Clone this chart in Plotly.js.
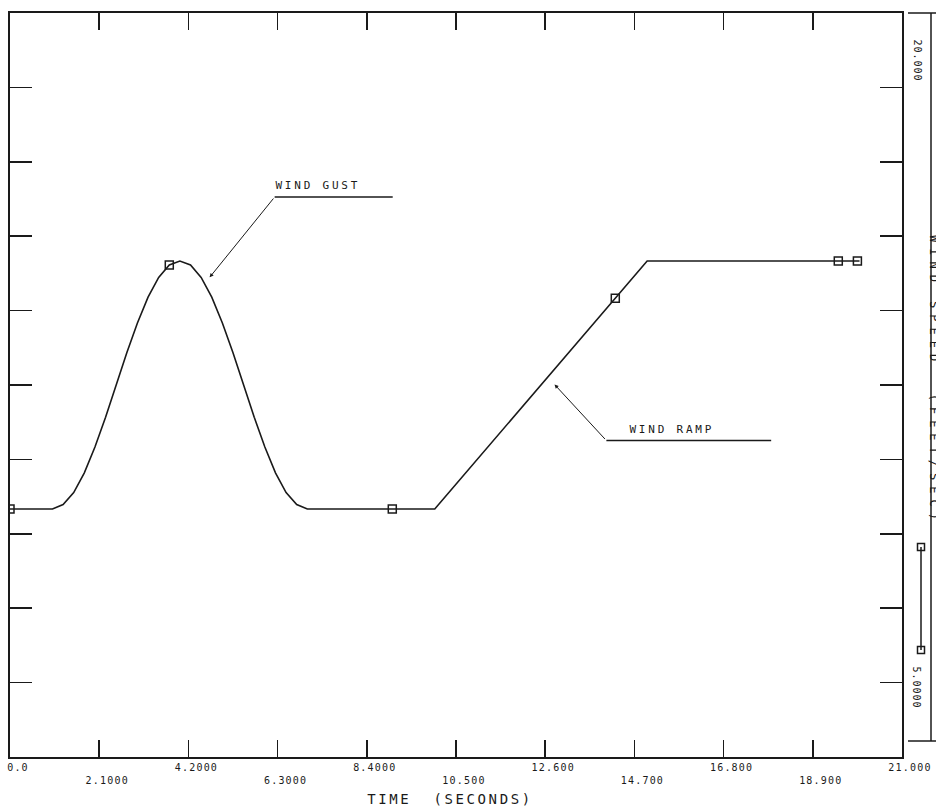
<!DOCTYPE html>
<html><head><meta charset="utf-8">
<script src="https://cdn.plot.ly/plotly-3.0.1.min.js"></script>
<style>body{margin:0;background:#fff}</style>
</head><body><div id="chart" style="width:936px;height:809px"></div>
<script>
// ---- data ----
const timeSec = [0, 1.0, 1.25, 1.5, 1.75, 2.0, 2.25, 2.5, 2.75, 3.0, 3.25, 3.5, 3.75, 4.0,
  4.25, 4.5, 4.75, 5.0, 5.25, 5.5, 5.75, 6.0, 6.25, 6.5, 6.75, 7.0, 10.0, 15.0, 20.0];
const windSpeed = [10, 10, 10.09, 10.33, 10.73, 11.25, 11.85, 12.5, 13.15, 13.75, 14.27, 14.67, 14.92, 15.0,
  14.92, 14.67, 14.27, 13.75, 13.15, 12.5, 11.85, 11.25, 10.73, 10.33, 10.09, 10, 10, 15, 15];
const markerTime = [0, 3.75, 9.0, 14.25, 19.5, 19.95];
const markerSpeed = [10, 14.92, 10, 14.25, 15, 15];
const xTickVals = [0, 2.1, 4.2, 6.3, 8.4, 10.5, 12.6, 14.7, 16.8, 18.9, 21.0];
const xTickLabels = ['0.0', '2.1000', '4.2000', '6.3000', '8.4000', '10.500', '12.600', '14.700', '16.800', '18.900', '21.000'];
const yRangeLabels = ['5.0000', '20.000'];
const xTitle = 'TIME  (SECONDS)';
const gustLabel = 'WIND GUST';
const rampLabel = 'WIND RAMP';
const sideLabel = 'WIND SPEED  (FEET/SEC)';

const mono = 'DejaVu Sans Mono, monospace';
const ink = '#1a1a1a';
const tickText = xTickLabels.map((t, i) => i % 2 ? '<br>' + t : t);

const traces = [
  {x: timeSec, y: windSpeed, mode: 'lines', line: {color: ink, width: 1.6}, hoverinfo: 'skip'},
  {x: markerTime, y: markerSpeed, mode: 'markers',
   marker: {symbol: 'square-open', size: 8, color: ink, line: {width: 1.5, color: ink}}, hoverinfo: 'skip'}
];

// pixel-to-paper helpers for the right-hand strip (plot area 10..902 x, 13..757 y)
const px = v => (v - 10) / 892;
const py = v => (757 - v) / 744;

const layout = {
  width: 936, height: 809,
  margin: {l: 10, r: 34, t: 13, b: 52},
  paper_bgcolor: '#fff', plot_bgcolor: '#fff',
  showlegend: false,
  xaxis: {
    range: [0, 21], tickvals: xTickVals, ticktext: tickText,
    ticks: 'inside', ticklen: 17, tickwidth: 1.5, tickcolor: ink,
    showline: true, linewidth: 2, linecolor: ink, mirror: 'ticks',
    showgrid: false, zeroline: false, automargin: false,
    ticklabelshift: 8,
    tickfont: {family: mono, size: 10, color: ink},
    title: {text: xTitle, font: {family: mono, size: 14, color: ink}, standoff: 9}
  },
  yaxis: {
    range: [5, 20], tick0: 5, dtick: 1.5,
    ticks: 'inside', ticklen: 22, tickwidth: 1.5, tickcolor: ink,
    showline: true, linewidth: 2, linecolor: ink, mirror: 'ticks',
    showgrid: false, zeroline: false, showticklabels: false, automargin: false
  },
  shapes: [
    {type: 'line', xref: 'x', yref: 'y', x0: 6.23, x1: 9.01, y0: 16.29, y1: 16.29, line: {color: ink, width: 1.5}},
    {type: 'line', xref: 'x', yref: 'y', x0: 14.04, x1: 17.92, y0: 11.38, y1: 11.38, line: {color: ink, width: 1.5}},
    // right strip bracket
    {type: 'line', xref: 'paper', yref: 'paper', x0: px(908), x1: px(940), y0: py(13), y1: py(13), line: {color: ink, width: 1.5}},
    {type: 'line', xref: 'paper', yref: 'paper', x0: px(908), x1: px(940), y0: py(741), y1: py(741), line: {color: ink, width: 1.5}},
    {type: 'line', xref: 'paper', yref: 'paper', x0: px(931), x1: px(931), y0: py(13), y1: py(741), line: {color: ink, width: 1.5}},
    // legend sample line with square ends
    {type: 'line', xref: 'paper', yref: 'paper', x0: px(921), x1: px(921), y0: py(547), y1: py(650), line: {color: ink, width: 1.5}},
    {type: 'rect', xref: 'paper', yref: 'paper', x0: px(917.5), x1: px(924.5), y0: py(543.5), y1: py(550.5), line: {color: ink, width: 1.5}},
    {type: 'rect', xref: 'paper', yref: 'paper', x0: px(917.5), x1: px(924.5), y0: py(646.5), y1: py(653.5), line: {color: ink, width: 1.5}}
  ],
  annotations: [
    {x: 4.70, y: 14.67, ax: 6.23, ay: 16.29, axref: 'x', ayref: 'y', xref: 'x', yref: 'y', text: '',
     showarrow: true, arrowhead: 2, arrowsize: 0.8, arrowwidth: 1, arrowcolor: ink},
    {x: 6.23, y: 16.29, xref: 'x', yref: 'y', text: gustLabel, showarrow: false, xanchor: 'left', yanchor: 'bottom',
     xshift: 11, yshift: 3, font: {family: mono, size: 11, color: ink}},
    {x: 12.82, y: 12.51, ax: 14.04, ay: 11.38, axref: 'x', ayref: 'y', xref: 'x', yref: 'y', text: '',
     showarrow: true, arrowhead: 2, arrowsize: 0.8, arrowwidth: 1, arrowcolor: ink},
    {x: 14.56, y: 11.38, xref: 'x', yref: 'y', text: rampLabel, showarrow: false, xanchor: 'left', yanchor: 'bottom',
     xshift: 12, yshift: 3, font: {family: mono, size: 11, color: ink}},
    {x: px(924), y: py(40), xref: 'paper', yref: 'paper', text: yRangeLabels[1], textangle: 90, showarrow: false,
     font: {family: mono, size: 10, color: ink}},
    {x: px(924), y: py(707), xref: 'paper', yref: 'paper', text: yRangeLabels[0], textangle: 90, showarrow: false,
     font: {family: mono, size: 10, color: ink}},
    {x: px(943), y: py(380), xref: 'paper', yref: 'paper', text: sideLabel, textangle: 90, showarrow: false,
     font: {family: mono, size: 12, color: ink}}
  ]
};

Plotly.newPlot('chart', traces, layout, {staticPlot: true, displayModeBar: false}).then(() => {
  document.querySelectorAll('.xtick text').forEach(t => t.style.letterSpacing = '1.2px');
  const ann = document.querySelectorAll('.annotation-text');
  ann.forEach(t => {
    const s = t.textContent;
    if (s === gustLabel || s === rampLabel) t.style.letterSpacing = '2.8px';
    else if (s === sideLabel) t.style.letterSpacing = '6px';
    else t.style.letterSpacing = '1px';
  });
  const tt = document.querySelector('.g-xtitle text');
  if (tt) { tt.style.letterSpacing = '2.6px'; tt.setAttribute('x', parseFloat(tt.getAttribute('x')) - 6); }
});
</script></body></html>
